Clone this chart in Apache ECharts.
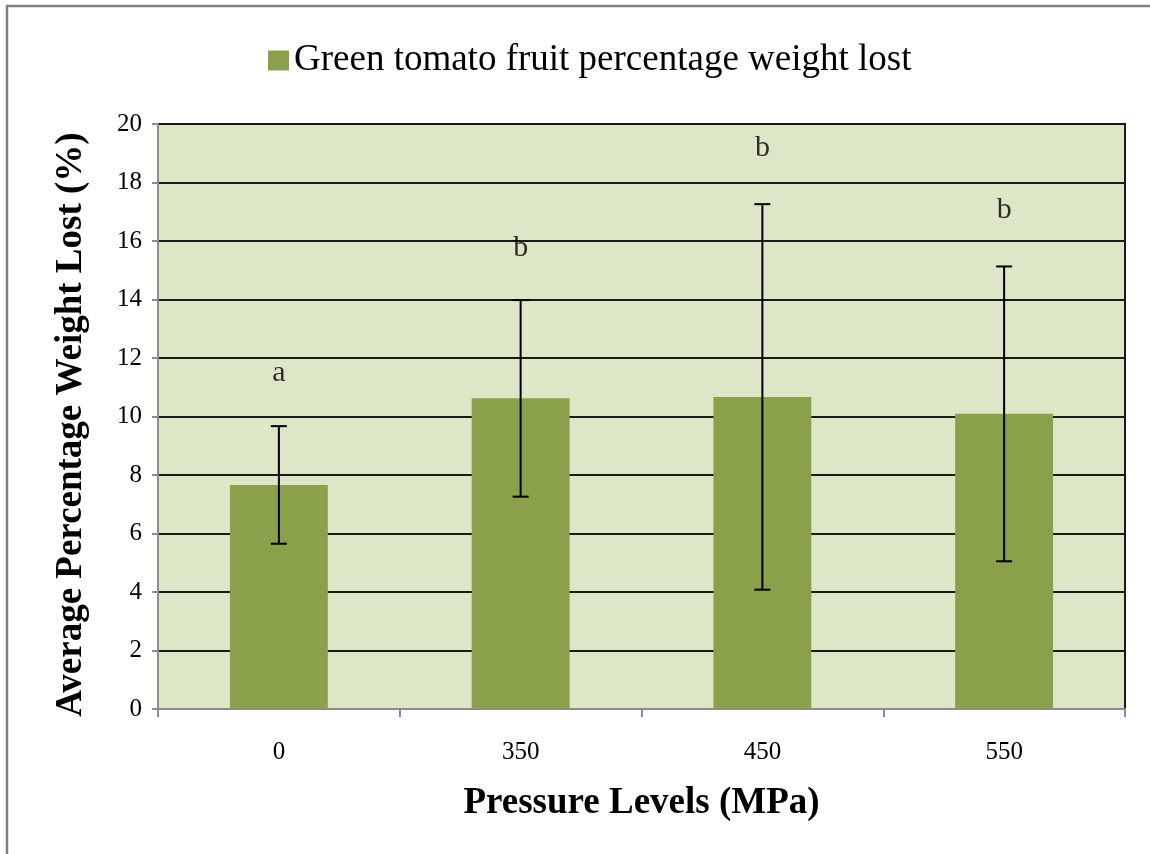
<!DOCTYPE html>
<html>
<head>
<meta charset="utf-8">
<script src="https://cdn.jsdelivr.net/npm/echarts@6/dist/echarts.min.js"></script>
<style>
html,body{margin:0;padding:0;background:#fff;}
#chart{width:1150px;height:854px;}
</style>
</head>
<body>
<div id="chart"></div>
<script>
const categories = ['0', '350', '450', '550'];
const meanValues = [7.66, 10.62, 10.67, 10.09];
const errorValues = [2.01, 3.36, 6.59, 5.04];
const groupLetters = ['a', 'b', 'b', 'b'];
const letterHeights = [11.48, 15.74, 19.16, 17.04];
const yTicks = [0, 2, 4, 6, 8, 10, 12, 14, 16, 18, 20];

const serif = '"Liberation Serif", "Times New Roman", serif';
const chart = echarts.init(document.getElementById('chart'), null, {renderer: 'canvas'});

const errData = meanValues.map((m, i) => [i, m - errorValues[i], m + errorValues[i]]);
const letterData = letterHeights.map((h, i) => [i, h]);

chart.setOption({
  animation: false,
  backgroundColor: '#ffffff',
  graphic: [
    {type: 'polyline', shape: {points: [[7, 854], [7, 6], [1150, 6]]},
     style: {stroke: '#7f7f7f', lineWidth: 2.5, fill: null}}
  ],
  legend: {
    show: true,
    top: 37,
    left: 263,
    itemWidth: 21,
    itemHeight: 20,
    itemGap: 8,
    textStyle: {fontFamily: serif, fontSize: 37, color: '#000', padding: [6, 0, 0, 0]},
    data: [{name: 'Green tomato fruit percentage weight lost', icon: 'rect'}]
  },
  grid: {
    left: 158, right: 25, top: 124, bottom: 145,
    show: true, backgroundColor: '#dee6c8', borderColor: '#1a1a1a', borderWidth: 2
  },
  xAxis: {
    type: 'category',
    data: categories,
    name: 'Pressure Levels (MPa)',
    nameLocation: 'middle',
    nameGap: 76,
    nameTextStyle: {fontFamily: serif, fontSize: 37, fontWeight: 'bold', color: '#000'},
    axisLine: {lineStyle: {color: '#8c8c8c', width: 2}},
    axisTick: {show: true, length: 8, lineStyle: {color: '#8c8c8c', width: 2}},
    axisLabel: {fontFamily: serif, fontSize: 25, color: '#000', margin: 31},
    splitLine: {show: false}
  },
  yAxis: {
    type: 'value',
    min: 0, max: 20, interval: 2,
    name: 'Average Percentage Weight Lost (%)',
    nameLocation: 'middle',
    nameGap: 68,
    nameTextStyle: {fontFamily: serif, fontSize: 37, fontWeight: 'bold', color: '#000', padding: [0, 16, 0, 0]},
    axisLine: {show: true, lineStyle: {color: '#8c8c8c', width: 2}},
    axisTick: {show: true, length: 6, lineStyle: {color: '#8c8c8c', width: 2}},
    axisLabel: {fontFamily: serif, fontSize: 25, color: '#000', margin: 16,
      formatter: v => yTicks.includes(v) ? String(v) : ''},
    splitLine: {show: true, lineStyle: {color: '#1a1a1a', width: 2}}
  },
  series: [
    {
      name: 'Green tomato fruit percentage weight lost',
      type: 'bar',
      data: meanValues,
      barWidth: '40.5%',
      itemStyle: {color: '#8aa04b'},
      z: 2
    },
    {
      name: 'err',
      type: 'custom',
      data: errData,
      z: 5,
      renderItem: function (params, api) {
        const x = api.value(0);
        const lo = api.coord([x, api.value(1)]);
        const hi = api.coord([x, api.value(2)]);
        const cap = 8;
        const style = {stroke: '#000', lineWidth: 2};
        return {
          type: 'group',
          children: [
            {type: 'line', shape: {x1: hi[0], y1: hi[1], x2: lo[0], y2: lo[1]}, style: style},
            {type: 'line', shape: {x1: hi[0] - cap, y1: hi[1], x2: hi[0] + cap, y2: hi[1]}, style: style},
            {type: 'line', shape: {x1: lo[0] - cap, y1: lo[1], x2: lo[0] + cap, y2: lo[1]}, style: style}
          ]
        };
      }
    },
    {
      name: 'letters',
      type: 'scatter',
      data: letterData,
      symbolSize: 1,
      itemStyle: {color: 'rgba(0,0,0,0)'},
      z: 6,
      label: {
        show: true,
        position: 'inside',
        fontFamily: serif,
        fontSize: 30,
        color: '#000',
        formatter: p => groupLetters[p.dataIndex]
      }
    }
  ]
});
</script>
</body>
</html>
